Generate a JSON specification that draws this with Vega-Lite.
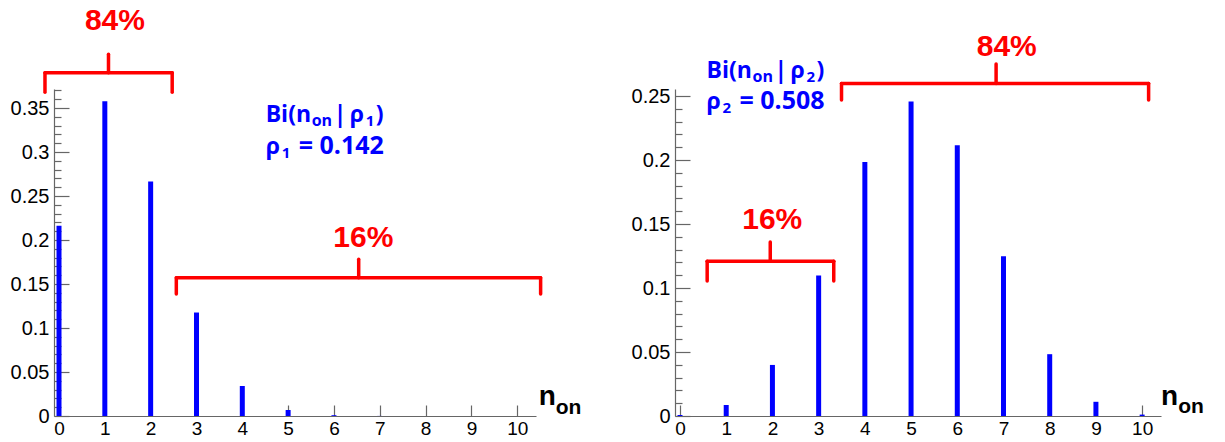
{
  "$schema": "https://vega.github.io/schema/vega-lite/v6.json",
  "background": "white",
  "padding": {"left": 10, "top": 5, "right": 0, "bottom": 0},
  "spacing": 49,
  "config": {
    "view": {"stroke": null},
    "axis": {
      "grid": false,
      "title": null,
      "labelFont": "Liberation Sans",
      "labelFontSize": 19,
      "labelColor": "#000000",
      "domainColor": "#666666",
      "tickColor": "#666666",
      "domainWidth": 1.2,
      "tickWidth": 1.2,
      "labelOverlap": false
    }
  },
  "datasets": {
    "rho1": [
      {"n_on": 0, "probability": 0.2162},
      {"n_on": 1, "probability": 0.3578},
      {"n_on": 2, "probability": 0.2665},
      {"n_on": 3, "probability": 0.1176},
      {"n_on": 4, "probability": 0.0341},
      {"n_on": 5, "probability": 0.0068},
      {"n_on": 6, "probability": 0.0009},
      {"n_on": 7, "probability": 0.0001},
      {"n_on": 8, "probability": 0.0},
      {"n_on": 9, "probability": 0.0},
      {"n_on": 10, "probability": 0.0}
    ],
    "rho2": [
      {"n_on": 0, "probability": 0.0008},
      {"n_on": 1, "probability": 0.0086},
      {"n_on": 2, "probability": 0.0399},
      {"n_on": 3, "probability": 0.1098},
      {"n_on": 4, "probability": 0.1984},
      {"n_on": 5, "probability": 0.2458},
      {"n_on": 6, "probability": 0.2115},
      {"n_on": 7, "probability": 0.1248},
      {"n_on": 8, "probability": 0.0483},
      {"n_on": 9, "probability": 0.0111},
      {"n_on": 10, "probability": 0.0011}
    ],
    "one": [{}]
  },
  "hconcat": [
    {
      "width": 482,
      "height": 327,
      "resolve": {"scale": {"x": "shared", "y": "shared"}, "axis": {"x": "independent", "y": "independent"}},
      "layer": [
        {
          "data": {"name": "rho1"},
          "mark": {"type": "bar", "size": 5, "color": "#0000ff", "clip": true},
          "encoding": {
            "x": {"field": "n_on", "type": "quantitative", "scale": {"domain": [0, 10.3], "nice": false, "zero": false},
                  "axis": {"orient": "bottom", "values": [0,1,2,3,4,5,6,7,8,9,10], "tickSize": -11, "labelPadding": 14, "labelFlush": false}},
            "y": {"field": "probability", "type": "quantitative", "scale": {"domain": [0, 0.3716], "nice": false},
                  "axis": {"orient": "left", "values": [0,0.05,0.1,0.15,0.2,0.25,0.3,0.35], "format": "~g", "tickSize": -15, "labelPadding": 20, "labelFontSize": 20}}
          }
        },
        {
          "data": {"name": "one"},
          "mark": {"type": "rule", "opacity": 0},
          "encoding": {"y": {"datum": 0, "type": "quantitative", "axis": {"orient": "left", "labels": false, "domain": false, "tickSize": -7,
            "values": [0.01,0.02,0.03,0.04,0.06,0.07,0.08,0.09,0.11,0.12,0.13,0.14,0.16,0.17,0.18,0.19,0.21,0.22,0.23,0.24,0.26,0.27,0.28,0.29,0.31,0.32,0.33,0.34,0.36,0.37]}}}
        },
        {"data": {"name": "one"}, "mark": {"type": "rule", "color": "#ff0000", "strokeWidth": 3.5, "strokeCap": "round"},
         "encoding": {"x": {"datum": -0.306, "axis": null}, "y": {"datum": 0.368, "axis": null}, "y2": {"datum": 0.390}}},
        {"data": {"name": "one"}, "mark": {"type": "rule", "color": "#ff0000", "strokeWidth": 3.5, "strokeCap": "round"},
         "encoding": {"x": {"datum": 2.47, "axis": null}, "y": {"datum": 0.368, "axis": null}, "y2": {"datum": 0.390}}},
        {"data": {"name": "one"}, "mark": {"type": "rule", "color": "#ff0000", "strokeWidth": 3.5, "strokeCap": "round"},
         "encoding": {"x": {"datum": -0.306, "axis": null}, "x2": {"datum": 2.47}, "y": {"datum": 0.390, "axis": null}}},
        {"data": {"name": "one"}, "mark": {"type": "rule", "color": "#ff0000", "strokeWidth": 3.5, "strokeCap": "round"},
         "encoding": {"x": {"datum": 1.08, "axis": null}, "y": {"datum": 0.390, "axis": null}, "y2": {"datum": 0.411}}},
        {"data": {"name": "one"}, "mark": {"type": "text", "text": "84%", "font": "Liberation Sans", "fontWeight": "bold", "fontSize": 30, "color": "#ff0000", "align": "center", "baseline": "alphabetic"},
         "encoding": {"x": {"datum": 1.22, "axis": null}, "y": {"datum": 0.439, "axis": null}}},
        {"data": {"name": "one"}, "mark": {"type": "rule", "color": "#ff0000", "strokeWidth": 3.5, "strokeCap": "round"},
         "encoding": {"x": {"datum": 2.56, "axis": null}, "y": {"datum": 0.1386, "axis": null}, "y2": {"datum": 0.157}}},
        {"data": {"name": "one"}, "mark": {"type": "rule", "color": "#ff0000", "strokeWidth": 3.5, "strokeCap": "round"},
         "encoding": {"x": {"datum": 10.51, "axis": null}, "y": {"datum": 0.1386, "axis": null}, "y2": {"datum": 0.157}}},
        {"data": {"name": "one"}, "mark": {"type": "rule", "color": "#ff0000", "strokeWidth": 3.5, "strokeCap": "round"},
         "encoding": {"x": {"datum": 2.56, "axis": null}, "x2": {"datum": 10.51}, "y": {"datum": 0.157, "axis": null}}},
        {"data": {"name": "one"}, "mark": {"type": "rule", "color": "#ff0000", "strokeWidth": 3.5, "strokeCap": "round"},
         "encoding": {"x": {"datum": 6.54, "axis": null}, "y": {"datum": 0.157, "axis": null}, "y2": {"datum": 0.178}}},
        {"data": {"name": "one"}, "mark": {"type": "text", "text": "16%", "font": "Liberation Sans", "fontWeight": "bold", "fontSize": 30, "color": "#ff0000", "align": "center", "baseline": "alphabetic"},
         "encoding": {"x": {"datum": 6.64, "axis": null}, "y": {"datum": 0.192, "axis": null}}},
        {"data": {"name": "one"}, "mark": {"type": "text", "text": "Bi(n", "font": "Open Sans", "fontWeight": "bold", "fontSize": 23, "color": "#0000ff", "align": "left", "baseline": "alphabetic"},
         "encoding": {"x": {"datum": 4.51, "axis": null}, "y": {"datum": 0.334, "axis": null}}},
        {"data": {"name": "one"}, "mark": {"type": "text", "text": "on", "font": "Open Sans", "fontWeight": "bold", "fontSize": 16, "color": "#0000ff", "align": "left", "baseline": "alphabetic", "dx": 46, "dy": 4},
         "encoding": {"x": {"datum": 4.51, "axis": null}, "y": {"datum": 0.334, "axis": null}}},
        {"data": {"name": "one"}, "mark": {"type": "text", "text": "|", "font": "Open Sans", "fontWeight": "bold", "fontSize": 23, "color": "#0000ff", "align": "left", "baseline": "alphabetic", "dx": 68},
         "encoding": {"x": {"datum": 4.51, "axis": null}, "y": {"datum": 0.334, "axis": null}}},
        {"data": {"name": "one"}, "mark": {"type": "text", "text": "ρ", "font": "Open Sans", "fontWeight": "bold", "fontSize": 23, "color": "#0000ff", "align": "left", "baseline": "alphabetic", "dx": 84},
         "encoding": {"x": {"datum": 4.51, "axis": null}, "y": {"datum": 0.334, "axis": null}}},
        {"data": {"name": "one"}, "mark": {"type": "text", "text": "1", "font": "Open Sans", "fontWeight": "bold", "fontSize": 15, "color": "#0000ff", "align": "left", "baseline": "alphabetic", "dx": 100, "dy": 4},
         "encoding": {"x": {"datum": 4.51, "axis": null}, "y": {"datum": 0.334, "axis": null}}},
        {"data": {"name": "one"}, "mark": {"type": "text", "text": ")", "font": "Open Sans", "fontWeight": "bold", "fontSize": 23, "color": "#0000ff", "align": "left", "baseline": "alphabetic", "dx": 110},
         "encoding": {"x": {"datum": 4.51, "axis": null}, "y": {"datum": 0.334, "axis": null}}},
        {"data": {"name": "one"}, "mark": {"type": "text", "text": "ρ", "font": "Open Sans", "fontWeight": "bold", "fontSize": 23, "color": "#0000ff", "align": "left", "baseline": "alphabetic"},
         "encoding": {"x": {"datum": 4.51, "axis": null}, "y": {"datum": 0.298, "axis": null}}},
        {"data": {"name": "one"}, "mark": {"type": "text", "text": "1", "font": "Open Sans", "fontWeight": "bold", "fontSize": 15, "color": "#0000ff", "align": "left", "baseline": "alphabetic", "dx": 16, "dy": 4},
         "encoding": {"x": {"datum": 4.51, "axis": null}, "y": {"datum": 0.298, "axis": null}}},
        {"data": {"name": "one"}, "mark": {"type": "text", "text": "= 0.142", "font": "Open Sans", "fontWeight": "bold", "fontSize": 25, "color": "#0000ff", "align": "left", "baseline": "alphabetic", "dx": 33},
         "encoding": {"x": {"datum": 4.51, "axis": null}, "y": {"datum": 0.298, "axis": null}}},
        {"data": {"name": "one"}, "mark": {"type": "text", "text": "n", "font": "Liberation Sans", "fontWeight": "bold", "fontSize": 28, "color": "#000000", "align": "left", "baseline": "alphabetic"},
         "encoding": {"x": {"datum": 10.47, "axis": null}, "y": {"datum": 0.0122, "axis": null}}},
        {"data": {"name": "one"}, "mark": {"type": "text", "text": "on", "font": "Liberation Sans", "fontWeight": "bold", "fontSize": 21, "color": "#000000", "align": "left", "baseline": "alphabetic"},
         "encoding": {"x": {"datum": 10.84, "axis": null}, "y": {"datum": 0.0026, "axis": null}}}
      ]
    },
    {
      "width": 486,
      "height": 327,
      "resolve": {"scale": {"x": "shared", "y": "shared"}, "axis": {"x": "independent", "y": "independent"}},
      "layer": [
        {
          "data": {"name": "rho2"},
          "mark": {"type": "bar", "size": 5, "color": "#0000ff", "clip": true},
          "encoding": {
            "x": {"field": "n_on", "type": "quantitative", "scale": {"domain": [0, 10.3], "nice": false, "zero": false},
                  "axis": {"orient": "bottom", "values": [0,1,2,3,4,5,6,7,8,9,10], "tickSize": -11, "labelPadding": 14, "labelFlush": false}},
            "y": {"field": "probability", "type": "quantitative", "scale": {"domain": [0, 0.2555], "nice": false},
                  "axis": {"orient": "left", "values": [0,0.05,0.1,0.15,0.2,0.25], "format": "~g", "tickSize": -15, "labelPadding": 20, "labelFontSize": 20}}
          }
        },
        {
          "data": {"name": "one"},
          "mark": {"type": "rule", "opacity": 0},
          "encoding": {"y": {"datum": 0, "type": "quantitative", "axis": {"orient": "left", "labels": false, "domain": false, "tickSize": -7,
            "values": [0.01,0.02,0.03,0.04,0.06,0.07,0.08,0.09,0.11,0.12,0.13,0.14,0.16,0.17,0.18,0.19,0.21,0.22,0.23,0.24]}}}
        },
        {"data": {"name": "one"}, "mark": {"type": "rule", "color": "#ff0000", "strokeWidth": 3.5, "strokeCap": "round"},
         "encoding": {"x": {"datum": 0.588, "axis": null}, "y": {"datum": 0.1055, "axis": null}, "y2": {"datum": 0.1209}}},
        {"data": {"name": "one"}, "mark": {"type": "rule", "color": "#ff0000", "strokeWidth": 3.5, "strokeCap": "round"},
         "encoding": {"x": {"datum": 3.327, "axis": null}, "y": {"datum": 0.1055, "axis": null}, "y2": {"datum": 0.1209}}},
        {"data": {"name": "one"}, "mark": {"type": "rule", "color": "#ff0000", "strokeWidth": 3.5, "strokeCap": "round"},
         "encoding": {"x": {"datum": 0.588, "axis": null}, "x2": {"datum": 3.327}, "y": {"datum": 0.1209, "axis": null}}},
        {"data": {"name": "one"}, "mark": {"type": "rule", "color": "#ff0000", "strokeWidth": 3.5, "strokeCap": "round"},
         "encoding": {"x": {"datum": 1.953, "axis": null}, "y": {"datum": 0.1209, "axis": null}, "y2": {"datum": 0.1359}}},
        {"data": {"name": "one"}, "mark": {"type": "text", "text": "16%", "font": "Liberation Sans", "fontWeight": "bold", "fontSize": 30, "color": "#ff0000", "align": "center", "baseline": "alphabetic"},
         "encoding": {"x": {"datum": 1.996, "axis": null}, "y": {"datum": 0.146, "axis": null}}},
        {"data": {"name": "one"}, "mark": {"type": "rule", "color": "#ff0000", "strokeWidth": 3.5, "strokeCap": "round"},
         "encoding": {"x": {"datum": 3.495, "axis": null}, "y": {"datum": 0.247, "axis": null}, "y2": {"datum": 0.2597}}},
        {"data": {"name": "one"}, "mark": {"type": "rule", "color": "#ff0000", "strokeWidth": 3.5, "strokeCap": "round"},
         "encoding": {"x": {"datum": 10.14, "axis": null}, "y": {"datum": 0.247, "axis": null}, "y2": {"datum": 0.2597}}},
        {"data": {"name": "one"}, "mark": {"type": "rule", "color": "#ff0000", "strokeWidth": 3.5, "strokeCap": "round"},
         "encoding": {"x": {"datum": 3.495, "axis": null}, "x2": {"datum": 10.14}, "y": {"datum": 0.2597, "axis": null}}},
        {"data": {"name": "one"}, "mark": {"type": "rule", "color": "#ff0000", "strokeWidth": 3.5, "strokeCap": "round"},
         "encoding": {"x": {"datum": 6.84, "axis": null}, "y": {"datum": 0.2597, "axis": null}, "y2": {"datum": 0.275}}},
        {"data": {"name": "one"}, "mark": {"type": "text", "text": "84%", "font": "Liberation Sans", "fontWeight": "bold", "fontSize": 30, "color": "#ff0000", "align": "center", "baseline": "alphabetic"},
         "encoding": {"x": {"datum": 7.07, "axis": null}, "y": {"datum": 0.2815, "axis": null}}},
        {"data": {"name": "one"}, "mark": {"type": "text", "text": "Bi(n", "font": "Open Sans", "fontWeight": "bold", "fontSize": 23, "color": "#0000ff", "align": "left", "baseline": "alphabetic"},
         "encoding": {"x": {"datum": 0.573, "axis": null}, "y": {"datum": 0.264, "axis": null}}},
        {"data": {"name": "one"}, "mark": {"type": "text", "text": "on", "font": "Open Sans", "fontWeight": "bold", "fontSize": 16, "color": "#0000ff", "align": "left", "baseline": "alphabetic", "dx": 46, "dy": 4},
         "encoding": {"x": {"datum": 0.573, "axis": null}, "y": {"datum": 0.264, "axis": null}}},
        {"data": {"name": "one"}, "mark": {"type": "text", "text": "|", "font": "Open Sans", "fontWeight": "bold", "fontSize": 23, "color": "#0000ff", "align": "left", "baseline": "alphabetic", "dx": 68},
         "encoding": {"x": {"datum": 0.573, "axis": null}, "y": {"datum": 0.264, "axis": null}}},
        {"data": {"name": "one"}, "mark": {"type": "text", "text": "ρ", "font": "Open Sans", "fontWeight": "bold", "fontSize": 23, "color": "#0000ff", "align": "left", "baseline": "alphabetic", "dx": 84},
         "encoding": {"x": {"datum": 0.573, "axis": null}, "y": {"datum": 0.264, "axis": null}}},
        {"data": {"name": "one"}, "mark": {"type": "text", "text": "2", "font": "Open Sans", "fontWeight": "bold", "fontSize": 15, "color": "#0000ff", "align": "left", "baseline": "alphabetic", "dx": 100, "dy": 4},
         "encoding": {"x": {"datum": 0.573, "axis": null}, "y": {"datum": 0.264, "axis": null}}},
        {"data": {"name": "one"}, "mark": {"type": "text", "text": ")", "font": "Open Sans", "fontWeight": "bold", "fontSize": 23, "color": "#0000ff", "align": "left", "baseline": "alphabetic", "dx": 110},
         "encoding": {"x": {"datum": 0.573, "axis": null}, "y": {"datum": 0.264, "axis": null}}},
        {"data": {"name": "one"}, "mark": {"type": "text", "text": "ρ", "font": "Open Sans", "fontWeight": "bold", "fontSize": 23, "color": "#0000ff", "align": "left", "baseline": "alphabetic"},
         "encoding": {"x": {"datum": 0.573, "axis": null}, "y": {"datum": 0.240, "axis": null}}},
        {"data": {"name": "one"}, "mark": {"type": "text", "text": "2", "font": "Open Sans", "fontWeight": "bold", "fontSize": 15, "color": "#0000ff", "align": "left", "baseline": "alphabetic", "dx": 16, "dy": 4},
         "encoding": {"x": {"datum": 0.573, "axis": null}, "y": {"datum": 0.240, "axis": null}}},
        {"data": {"name": "one"}, "mark": {"type": "text", "text": "= 0.508", "font": "Open Sans", "fontWeight": "bold", "fontSize": 25, "color": "#0000ff", "align": "left", "baseline": "alphabetic", "dx": 33},
         "encoding": {"x": {"datum": 0.573, "axis": null}, "y": {"datum": 0.240, "axis": null}}},
        {"data": {"name": "one"}, "mark": {"type": "text", "text": "n", "font": "Liberation Sans", "fontWeight": "bold", "fontSize": 28, "color": "#000000", "align": "left", "baseline": "alphabetic"},
         "encoding": {"x": {"datum": 10.41, "axis": null}, "y": {"datum": 0.0084, "axis": null}}},
        {"data": {"name": "one"}, "mark": {"type": "text", "text": "on", "font": "Liberation Sans", "fontWeight": "bold", "fontSize": 21, "color": "#000000", "align": "left", "baseline": "alphabetic"},
         "encoding": {"x": {"datum": 10.78, "axis": null}, "y": {"datum": 0.0023, "axis": null}}}
      ]
    }
  ]
}
